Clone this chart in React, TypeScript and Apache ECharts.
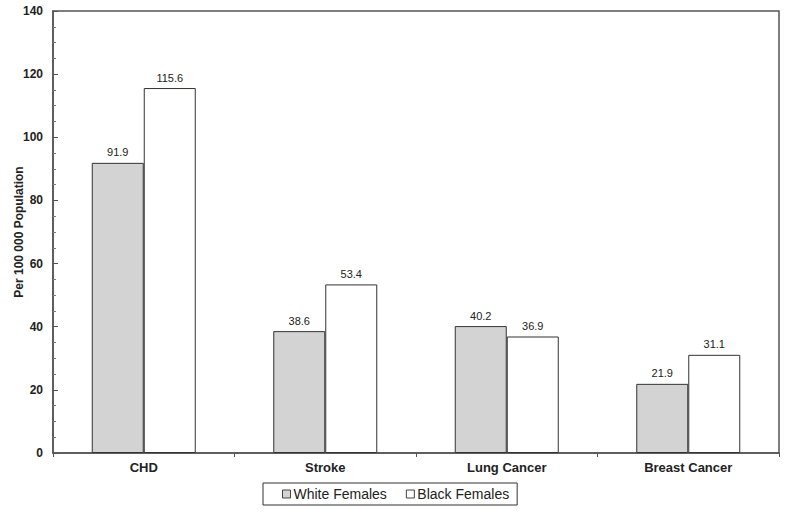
import React, { useEffect, useRef } from "react";
import * as echarts from "echarts";

const categories = ["CHD", "Stroke", "Lung Cancer", "Breast Cancer"];
const whiteFemales = [91.9, 38.6, 40.2, 21.9];
const blackFemales = [115.6, 53.4, 36.9, 31.1];
const seriesNames = ["White Females", "Black Females"];
const yTicks = { min: 0, max: 140, interval: 20 };

export default function App() {
  const ref = useRef<HTMLDivElement>(null);
  useEffect(() => {
    if (!ref.current) return;
    const chart = echarts.init(ref.current, null, { renderer: "svg" });
    const font = "Liberation Sans, Arial, sans-serif";
    const labelStyle = {
      show: true,
      position: "top",
      distance: 5,
      fontFamily: font,
      fontSize: 11,
      color: "#222",
      formatter: (p: any) => p.value.toFixed(1),
    };
    chart.setOption({
      animation: false,
      backgroundColor: "#fff",
      textStyle: { fontFamily: font },
      grid: {
        left: 53,
        right: 7,
        top: 11,
        bottom: 60,
        containLabel: false,
        outerBoundsMode: "none",
        show: true,
        borderColor: "#555",
        borderWidth: 1.5,
        backgroundColor: "transparent",
      },
      legend: {
        data: seriesNames,
        icon: "rect",
        left: 263,
        top: 483,
        itemWidth: 8,
        itemHeight: 8,
        itemGap: 19,
        padding: [4, 8, 4, 19],
        borderColor: "#333",
        borderWidth: 1,
        itemStyle: { borderColor: "#444", borderWidth: 1 },
        textStyle: { fontFamily: font, fontSize: 14, color: "#222", padding: [0, 0, 0, -2] },
      },
      xAxis: {
        type: "category",
        data: categories,
        axisLine: { lineStyle: { color: "#555", width: 1.5 } },
        axisTick: { show: true, length: 4, lineStyle: { color: "#555" } },
        axisLabel: { fontFamily: font, fontWeight: "bold", fontSize: 13, color: "#222", margin: 8 },
      },
      yAxis: {
        type: "value",
        min: yTicks.min,
        max: yTicks.max,
        interval: yTicks.interval,
        name: "Per 100 000 Population",
        nameLocation: "middle",
        nameGap: 28,
        nameMoveOverlap: false,
        nameTextStyle: { fontFamily: font, fontWeight: "bold", fontSize: 12, color: "#222" },
        axisLine: { show: true, lineStyle: { color: "#555", width: 1.5 } },
        axisTick: { show: true, length: 5, inside: true, lineStyle: { color: "#555" } },
        minorTick: { show: true, splitNumber: 4, length: 3, lineStyle: { color: "#777" } },
        splitLine: { show: false },
        axisLabel: { fontFamily: font, fontWeight: "bold", fontSize: 12, color: "#222", margin: 10 },
      },
      series: [
        {
          name: seriesNames[0],
          type: "bar",
          data: whiteFemales,
          barWidth: 52,
          barGap: "0%",
          itemStyle: { color: "#d3d3d3", borderColor: "#333", borderWidth: 1 },
          label: labelStyle,
        },
        {
          name: seriesNames[1],
          type: "bar",
          data: blackFemales,
          barWidth: 52,
          barGap: "0%",
          itemStyle: { color: "#ffffff", borderColor: "#333", borderWidth: 1 },
          label: labelStyle,
        },
      ],
    });
    return () => chart.dispose();
  }, []);
  return <div ref={ref} style={{ position: "fixed", left: 0, top: 0, width: 786, height: 513 }} />;
}
